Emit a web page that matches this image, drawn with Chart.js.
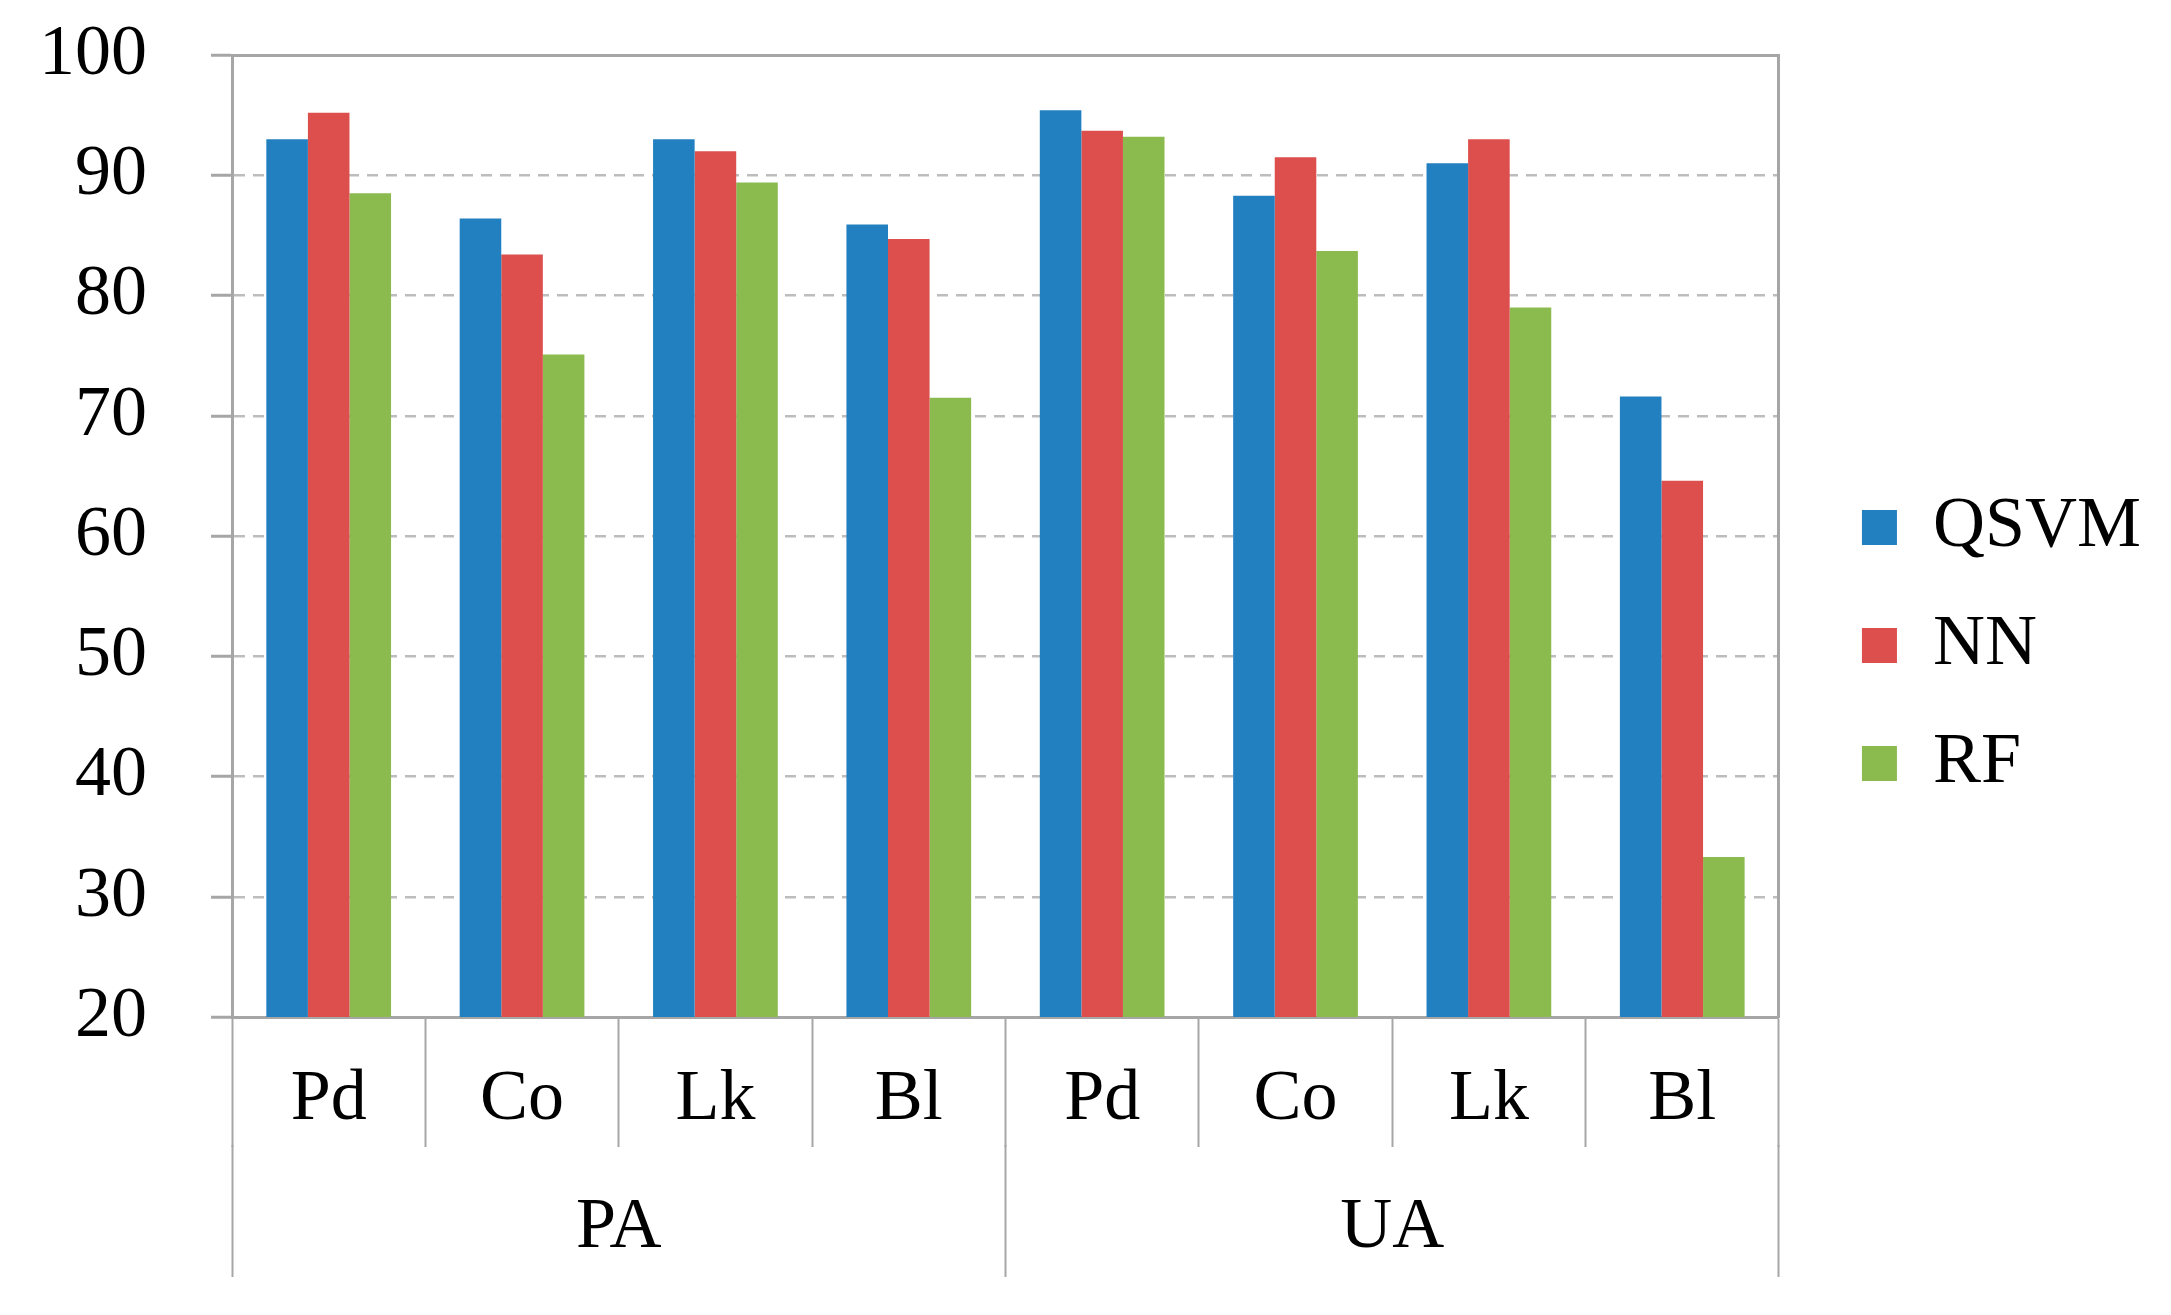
<!DOCTYPE html>
<html>
<head>
<meta charset="utf-8">
<script src="https://cdn.jsdelivr.net/npm/chart.js@4.4.1/dist/chart.umd.min.js"></script>
<style>
  body { margin: 0; background: #fff; }
  #wrap { width: 2171px; height: 1315px; }
</style>
</head>
<body>
<div id="wrap"><canvas id="accuracy-chart" width="2171" height="1315"></canvas></div>
<script>
// categories on the x axis, and the two groups under them
let categories = ["Pd", "Co", "Lk", "Bl", "Pd", "Co", "Lk", "Bl"];
let groups = ["PA", "UA"];

// accuracy values (%)
let qsvmValues = [93.0, 86.4, 93.0, 85.9, 95.4, 88.3, 91.0, 71.6];
let nnValues = [95.2, 83.4, 92.0, 84.7, 93.7, 91.5, 93.0, 64.6];
let rfValues = [88.5, 75.1, 89.4, 71.5, 93.2, 83.7, 79.0, 33.3];

// y axis range
let yMin = 20;
let yMax = 100;
let yStep = 10;

let axisGray = "#a6a6a6";
let gridGray = "#bdbdbd";
let fontFamily = "'Liberation Serif', 'Times New Roman', serif";
let fontSize = 72;

let context = document.querySelector("#accuracy-chart").getContext("2d");

function makeDataset(label, values, color) {
  return {
    label: label,
    data: values,
    backgroundColor: color,
    borderWidth: 0,
    xAxisID: "x",
    yAxisID: "y",
    categoryPercentage: 0.645,
    barPercentage: 1.0,
  };
}

// the legend is centred on the full height; move it up a bit to sit like the original
let legendNudge = {
  id: "legendNudge",
  afterLayout: function (chart) {
    chart.legend.top -= 22;
    chart.legend.bottom -= 22;
  },
};

let accuracyChart = new Chart(context, {
  type: "bar",
  data: {
    labels: categories,
    datasets: [
      makeDataset("QSVM", qsvmValues, "#2280c1"),
      makeDataset("NN", nnValues, "#dc4f4c"),
      makeDataset("RF", rfValues, "#8bbb4f"),
    ],
  },
  plugins: [legendNudge],
  options: {
    responsive: false,
    animation: false,
    devicePixelRatio: 1,
    layout: { padding: { top: 55, bottom: 35, left: 0, right: 20 } },
    plugins: {
      tooltip: { enabled: false },
      legend: {
        position: "right",
        labels: {
          boxWidth: 35,
          boxHeight: 35,
          padding: 46,
          color: "#000",
          font: { family: fontFamily, size: fontSize },
        },
      },
    },
    scales: {
      y: {
        position: "left",
        min: yMin,
        max: yMax,
        ticks: {
          stepSize: yStep,
          padding: 64,
          color: "#000",
          font: { family: fontFamily, size: fontSize },
        },
        grid: {
          color: gridGray,
          lineWidth: 2.5,
          tickLength: 21,
          tickColor: axisGray,
          tickWidth: 3,
        },
        border: { color: axisGray, width: 3, dash: [11, 8] },
        afterFit: function (scale) {
          scale.width = 232;
          scale.paddingTop = 0;
          scale.paddingBottom = 0;
        },
      },
      // right frame line and spacing before the legend
      yRight: {
        position: "right",
        display: true,
        min: yMin,
        max: yMax,
        ticks: { display: false },
        grid: { display: false, drawTicks: false },
        border: { color: axisGray, width: 3 },
        afterFit: function (scale) {
          scale.width = 37;
        },
      },
      // top frame line
      xTop: {
        type: "category",
        position: "top",
        ticks: { display: false },
        grid: { display: false, drawTicks: false },
        border: { color: axisGray, width: 3 },
      },
      x: {
        type: "category",
        position: "bottom",
        offset: true,
        weight: 0,
        ticks: {
          autoSkip: false,
          maxRotation: 0,
          padding: -90,
          color: "#000",
          font: { family: fontFamily, size: fontSize },
        },
        grid: {
          offset: true,
          drawOnChartArea: false,
          drawTicks: true,
          tickLength: 130,
          tickColor: axisGray,
          tickWidth: 2,
        },
        border: { color: axisGray, width: 3 },
        afterFit: function (scale) {
          scale.height = 128;
        },
      },
      // group labels PA / UA under the categories
      x2: {
        type: "category",
        position: "bottom",
        labels: groups,
        offset: true,
        weight: 1,
        ticks: {
          autoSkip: false,
          maxRotation: 0,
          padding: -92,
          color: "#000",
          font: { family: fontFamily, size: fontSize },
        },
        grid: {
          offset: true,
          drawOnChartArea: false,
          drawTicks: true,
          tickLength: 132,
          tickColor: axisGray,
          tickWidth: 2,
        },
        border: { display: false },
        afterFit: function (scale) {
          scale.height = 135;
        },
      },
    },
  },
});
</script>
</body>
</html>
